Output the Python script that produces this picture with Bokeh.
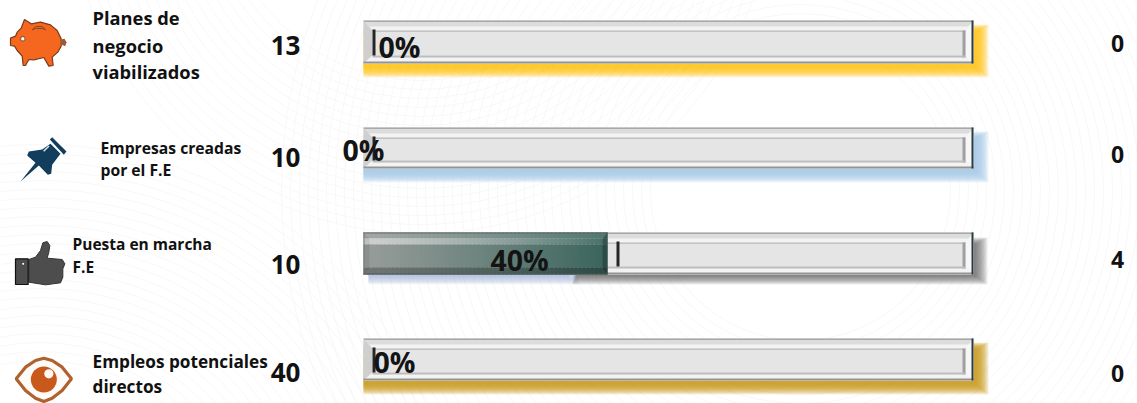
from bokeh.plotting import figure
from bokeh.models import Range1d
from bokeh.core.properties import value
from bokeh.embed import file_html
from bokeh.resources import INLINE

# ---------- data ----------
labels = [["Planes de", "negocio", "viabilizados"],
          ["Empresas creadas", "por el F.E"],
          ["Puesta en marcha", "F.E"],
          ["Empleos potenciales", "directos"]]
targets = [13, 10, 10, 40]
achieved = [0, 0, 4, 0]
percent = [a / t * 100 for a, t in zip(achieved, targets)]

# ---------- layout (reference pixels) ----------
W, H = 1137, 403
BAR_L, BAR_R = 363, 973
PX_PER_PCT = (BAR_R - BAR_L) / 100
tops = [20, 127, 232, 338]
bottoms = [63, 168, 274, 380]
label_x = [92, 100, 72, 92]
label_y = [[17, 45, 71], [147, 169], [243, 266], [361, 386]]
label_size = [18.3, 15.7, 15.5, 17.2]
target_y = [45, 157, 264, 372]
right_y = [43, 154, 259, 373]
pct_x = [378, 342, 490, 373]
pct_y = [46, 149, 259, 361]
shadow_cols = ["#ffc41a", "#a8c8ea", "#a8b8d8", "#c9981c"]
FONT = value("Open Sans")

p = figure(width=W, height=H, x_range=Range1d(0, W), y_range=Range1d(H, 0),
           toolbar_location=None, output_backend="svg", min_border=0,
           outline_line_color=None, background_fill_color="#ffffff",
           border_fill_color="#ffffff")
p.styles = {"position": "absolute", "left": "0px", "top": "0px"}
p.axis.visible = False
p.grid.visible = False
p.extra_x_ranges["pct"] = Range1d(-BAR_L / PX_PER_PCT, (W - BAR_L) / PX_PER_PCT)


def q(l, r, t, b, c, a=1.0):
    p.quad(left=[l], right=[r], top=[t], bottom=[b], fill_color=c, fill_alpha=a, line_color=None)


def poly(xs, ys, c, a=1.0, lc=None, lw=1):
    p.patch(xs, ys, fill_color=c, fill_alpha=a, line_color=lc, line_width=lw)


def txt(x, y, s, size, col="#111111", align="left"):
    p.text([x], [y], text=[s], text_font=FONT, text_font_size=f"{size}px", text_font_style="bold",
           text_color=col, text_align=align, text_baseline="middle")


def lerp(c1, c2, f):
    v = [round(c1[i] + (c2[i] - c1[i]) * f) for i in range(3)]
    return "#%02x%02x%02x" % tuple(v)


WHITE, BLACK = (255, 255, 255), (0, 0, 0)

# faint guilloche background
for cx, cy, r0, r1 in [(800, 190, 150, 520), (40, 560, 200, 420), (420, -120, 200, 360)]:
    for r in range(r0, r1, 9):
        p.circle([cx], [cy], radius=r, fill_color=None, line_color="#f8f8f8", line_width=1)

# ---------- bars ----------
for i, pct in enumerate(percent):
    t, b = tops[i], bottoms[i]
    # blurred shadow: many thin translucent layers
    sc = shadow_cols[i]
    for k in range(12):
        if i == 2:
            q(BAR_L + 5, 578 - k, t + 6, b + 10 - k * 0.8, "#a8b8d8", 0.11)
            q(572 + k * 0.5, BAR_R + 14 - k * 1.1, t + 5 + k * 0.6, b + 10 - k * 0.8, "#5a5a5a", 0.10)
        else:
            q(BAR_L, BAR_R + 15 - k * 1.1, t + 4 + k * 0.6, b + 14 - k * 0.9, sc, 0.17)

    # frame
    L, R = BAR_L, BAR_R
    q(L, R, t, b, "#f0f0f0")
    il, ir, it, ib = L + 9, R - 8, t + 10, b - 8
    poly([L, R, ir, il], [t, t, it, it], "#dcdcdc")          # top bevel
    q(L, R, t, t + 1.5, "#a8a8a8")
    q(L + 4, R - 4, t + 6, t + 10, "#f5f5f5", 0.9)
    poly([L, il, il, L], [t, it, ib, b], "#cfcfcf")          # left bevel
    poly([R, ir, ir, R], [t, it, ib, b], "#f7f7f7")          # right bevel
    poly([L, R, ir, il], [b, b, ib, ib], "#f3f3f3")          # bottom bevel
    q(L, R, b - 2, b, "#949494")
    q(R - 2, R, t, b, "#2d3a42")
    q(il, ir, it, ib, "#e5e5e5")
    q(il, ir, it, it + 1.5, "#c2c2c2")
    q(ir - 3, ir, it, ib + 2, "#a0a0a0")
    q(il, ir, ib, ib + 2, "#bcbcbc")

    # marker at the end of the value
    p.quad(left=[pct + 9 / PX_PER_PCT], right=[pct + 12 / PX_PER_PCT], top=[it - 1], bottom=[ib],
           fill_color="#262626", line_color=None, x_range_name="pct")

    # filled bar
    if pct > 0:
        n = 60
        c1, c2 = (150, 156, 154), (58, 101, 92)
        for s in range(n):
            f = s / (n - 1)
            x0, x1 = pct * s / n, pct * (s + 1) / n + 0.4
            if s == n - 1:
                x1 = pct
            col = lerp(c1, c2, f ** 1.1)
            rgb = tuple(int(col[j:j + 2], 16) for j in (1, 3, 5))
            for y0, y1, cc in [(t, t + 6, lerp(rgb, WHITE, 0.12)),
                               (t + 6, t + 12, lerp(rgb, WHITE, 0.08 + 0.45 * (1 - f))),
                               (t + 12, b - 7, col),
                               (b - 7, b, lerp(rgb, BLACK, 0.25))]:
                p.quad(left=[x0], right=[x1], top=[y0], bottom=[y1], fill_color=cc, line_color=None,
                       x_range_name="pct")
        e = BAR_L + pct * PX_PER_PCT
        poly([L, L + 6, L + 6, L], [t, t + 6, b - 7, b], "#000000", 0.07)
        poly([e, e - 5, e - 5, e], [t, t + 6, b - 7, b], "#000000", 0.25)
        q(L, e, t, t + 1, "#55605c", 0.8)
        q(L, e, b - 1, b, "#4c5a56", 0.9)
        q(e - 1, e, t, b, "#33524b", 0.9)
        q(L, L + 1, t, b, "#707674", 0.9)

    # texts
    for line, y in zip(labels[i], label_y[i]):
        txt(label_x[i], y, line, label_size[i])
    txt(285, target_y[i], str(targets[i]), 26, align="center")
    txt(1117, right_y[i], str(achieved[i]), 23, align="center")
    txt(pct_x[i], pct_y[i], f"{pct:.0f}%", 28.5, col="#141414")

# ---------- icons ----------
def zp(pts, ox, oy):
    return [ox + a / 3 for a, _ in pts], [oy + b / 3 for _, b in pts]


pig = [(30, 68), (45, 62), (50, 50), (62, 38), (72, 12), (92, 25), (120, 20), (150, 28), (170, 45), (182, 70),
       (182, 92), (172, 110), (155, 125), (158, 150), (145, 152), (130, 126), (100, 133), (85, 132), (75, 150),
       (68, 150), (65, 122), (50, 105), (42, 92), (30, 90)]
xs, ys = zp(pig, 0, 15)
poly(xs, ys, "#f5661f", 1, "#7a3a1a", 1.2)
xs, ys = zp([(182, 72), (192, 70), (198, 80), (194, 92), (184, 88)], 0, 15)
poly(xs, ys, "#9a5a3a", 1)
xs, ys = zp([(95, 43), (105, 33), (125, 33), (136, 43), (125, 39), (105, 39)], 0, 15)
poly(xs, ys, "#d8662e", 1, "#8a4a2a", 1)
p.circle([67 / 3], [15 + 70 / 3], radius=2.2, fill_color="#ffffff", line_color="#5a3a2a", line_width=0.8)

pin = [(55, 78), (95, 72), (120, 55), (150, 85), (125, 118), (122, 145), (112, 148), (85, 120), (30, 168),
       (75, 112), (50, 90)]
xs, ys = zp(pin, 10, 125)
poly(xs, ys, "#123d5c")
xs, ys = zp([(118, 42), (125, 35), (168, 78), (160, 88)], 10, 125)
poly(xs, ys, "#123d5c")
xs, ys = zp([(98, 76), (114, 60), (117, 63), (101, 79)], 10, 125)
poly(xs, ys, "#dfe8ee")

hand = [(70, 72), (90, 65), (105, 45), (112, 22), (125, 18), (133, 30), (130, 50), (125, 68), (170, 72), (178, 85),
        (172, 100), (172, 125), (165, 142), (120, 148), (70, 140)]
xs, ys = zp(hand, 5, 235)
poly(xs, ys, "#4d4d4d", 1, "#333333", 1)
q(5 + 30 / 3, 5 + 68 / 3, 235 + 70 / 3, 235 + 147 / 3, "#4d4d4d")
p.quad(left=[5 + 30 / 3], right=[5 + 68 / 3], top=[235 + 70 / 3], bottom=[235 + 147 / 3], fill_color=None,
       line_color="#111111", line_width=1.2)
p.circle([5 + 53 / 3], [235 + 85 / 3], radius=1.5, fill_color="#ffffff", line_color="#111111", line_width=0.6)

eye = [(32, 100), (60, 65), (90, 45), (115, 38), (140, 45), (170, 65), (198, 100), (170, 135), (140, 158),
       (115, 168), (90, 158), (60, 135)]
xs, ys = zp(eye, 5, 345)
poly(xs, ys, "#fdfaf7", 1, "#b0622e", 3.2)
p.circle([5 + 115 / 3], [345 + 102 / 3], radius=13, fill_color="#c8591a", line_color=None)
p.circle([5 + 130 / 3], [345 + 85 / 3], radius=4.6, fill_color="#fdfaf7", line_color=None)

open("out.html", "w").write(file_html(p, INLINE))
